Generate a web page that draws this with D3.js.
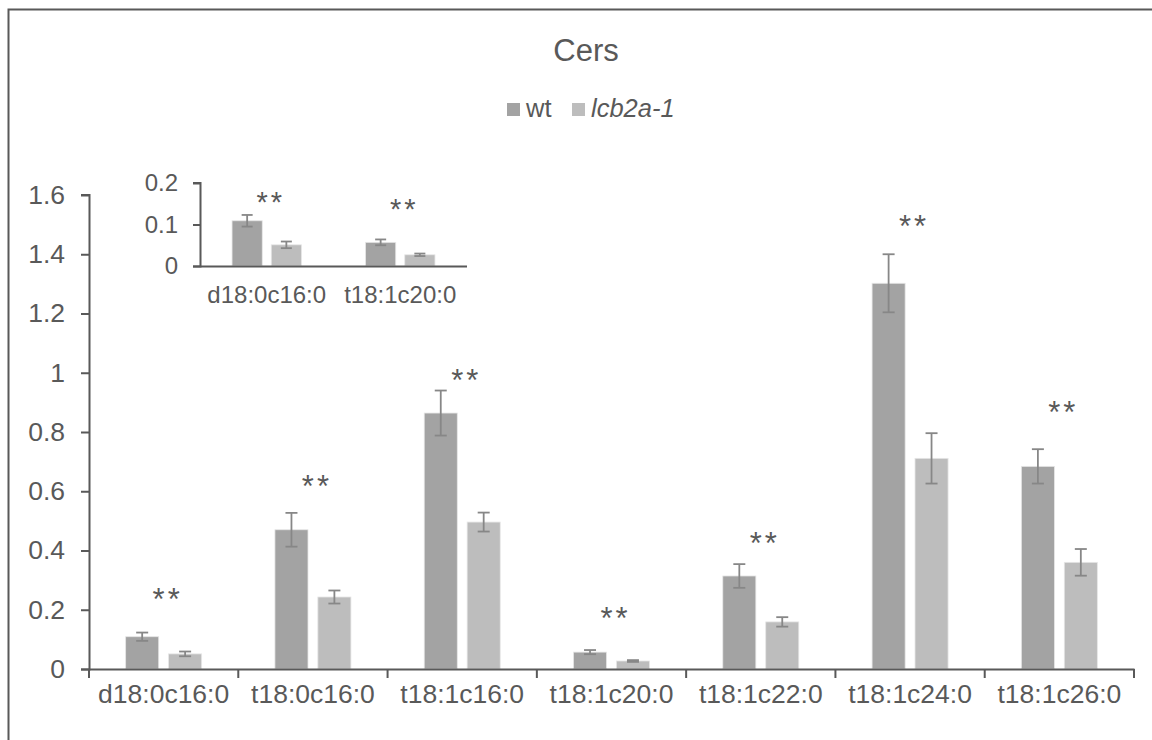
<!DOCTYPE html>
<html>
<head>
<meta charset="utf-8">
<script src="https://cdn.jsdelivr.net/npm/d3@7"></script>
<style>
  body { margin: 0; background: #fff; }
  text { font-family: "Liberation Sans", Arial, sans-serif; fill: #595959; }
</style>
</head>
<body>
<div id="chart"></div>
<script>
// data
var categories = ["d18:0c16:0", "t18:0c16:0", "t18:1c16:0", "t18:1c20:0", "t18:1c22:0", "t18:1c24:0", "t18:1c26:0"];
var seriesNames = ["wt", "lcb2a-1"];
var wt     = [0.109, 0.470, 0.864, 0.057, 0.314, 1.302, 0.684];
var wtErr  = [0.014, 0.057, 0.076, 0.007, 0.040, 0.098, 0.058];
var lcb    = [0.051, 0.243, 0.496, 0.027, 0.159, 0.711, 0.360];
var lcbErr = [0.008, 0.022, 0.032, 0.003, 0.016, 0.085, 0.045];
var sigLabel = ["**", "**", "**", "**", "**", "**", "**"];
var sigPos   = [0.26, 0.64, 1.00, 0.196, 0.45, 1.52, 0.89];
var yTicks = [0, 0.2, 0.4, 0.6, 0.8, 1, 1.2, 1.4, 1.6];

var insetCats = ["d18:0c16:0", "t18:1c20:0"];
var insetSigPos = [0.171, 0.153];
var insetTicks = [0, 0.1, 0.2];

var colors = ["#a3a3a3", "#bdbdbd"];
var axisColor = "#595959";
var errColor = "#878787";

var W = 1152, H = 740;
var svg = d3.select("#chart").append("svg").attr("width", W).attr("height", H);

// outer frame (runs past the right / bottom edges)
svg.append("rect")
    .attr("x", 8.5).attr("y", 9.5).attr("width", 1170).attr("height", 760)
    .attr("fill", "none").attr("stroke", axisColor).attr("stroke-width", 2);

svg.append("text").attr("x", 586).attr("y", 61)
    .attr("text-anchor", "middle").attr("font-size", 31).text("Cers");

// legend
var legend = svg.append("g");
var legItems = [{x: 507, name: seriesNames[0], italic: false}, {x: 572, name: seriesNames[1], italic: true}];
legItems.forEach(function(d, i) {
    legend.append("rect").attr("x", d.x).attr("y", 103).attr("width", 13).attr("height", 13).attr("fill", colors[i]);
    legend.append("text").attr("x", d.x + 19).attr("y", 117).attr("font-size", 25.5)
        .attr("font-style", d.italic ? "italic" : "normal").text(d.name);
});

function rows(cats) {
    return cats.map(function(c) {
        var i = categories.indexOf(c);
        return {cat: c, vals: [wt[i], lcb[i]], errs: [wtErr[i], lcbErr[i]], sig: sigLabel[i], sigY: sigPos[i]};
    });
}

function drawBars(g, data, x, y, opts) {
    var inner = x.bandwidth() * opts.innerFrac;
    var x1 = d3.scaleBand().domain([0, 1])
        .range([(x.bandwidth() - inner) / 2, (x.bandwidth() + inner) / 2])
        .paddingInner(0.23);

    var groups = g.selectAll("g.cat").data(data).enter().append("g")
        .attr("class", "cat")
        .attr("transform", function(d) { return "translate(" + x(d.cat) + ",0)"; });

    var bars = groups.selectAll("g.bar")
        .data(function(d) { return d.vals.map(function(v, k) { return {v: v, e: d.errs[k], k: k}; }); })
        .enter().append("g").attr("class", "bar");

    bars.append("rect")
        .attr("x", function(d) { return x1(d.k); })
        .attr("y", function(d) { return y(d.v); })
        .attr("width", x1.bandwidth())
        .attr("height", function(d) { return y(0) - y(d.v); })
        .attr("fill", function(d) { return colors[d.k]; })
        .attr("stroke", "#e6e6e6").attr("stroke-width", 0.8);

    var cap = opts.cap;
    bars.each(function(d) {
        var b = d3.select(this);
        var cx = x1(d.k) + x1.bandwidth() / 2;
        var top = y(d.v + d.e), bot = y(d.v - d.e);
        b.append("line").attr("x1", cx).attr("x2", cx).attr("y1", top).attr("y2", bot);
        b.append("line").attr("x1", cx - cap).attr("x2", cx + cap).attr("y1", top).attr("y2", top);
        b.append("line").attr("x1", cx - cap).attr("x2", cx + cap).attr("y1", bot).attr("y2", bot);
        b.selectAll("line").attr("stroke", errColor).attr("stroke-width", 1.8);
    });

    groups.append("text")
        .attr("x", x.bandwidth() / 2 + 4)
        .attr("y", function(d, i) { return y(opts.sigPos ? opts.sigPos[i] : d.sigY) + opts.starFs * 0.58; })
        .attr("text-anchor", "middle")
        .attr("font-size", opts.starFs)
        .attr("letter-spacing", 3)
        .text(function(d) { return d.sig; });
}

// main chart
var x = d3.scaleBand().domain(categories).range([89, 1134]);
var y = d3.scaleLinear().domain([0, 1.6]).range([669, 195]);

var gMain = svg.append("g");
drawBars(gMain, rows(categories), x, y, {innerFrac: 0.509, cap: 6, starFs: 31});

var yAxis = svg.append("g").attr("transform", "translate(89,0)")
    .call(d3.axisLeft(y).tickValues(yTicks).tickSize(8).tickPadding(16).tickFormat(d3.format("")));
var xAxis = svg.append("g").attr("transform", "translate(0,669)")
    .call(d3.axisBottom(x).tickSize(0).tickPadding(15));
xAxis.selectAll(".tick line").remove();
// category boundary ticks
xAxis.selectAll("line.sep").data(d3.range(categories.length + 1)).enter().append("line")
    .attr("class", "sep")
    .attr("x1", function(i) { return 89 + i * x.step(); })
    .attr("x2", function(i) { return 89 + i * x.step(); })
    .attr("y1", 0).attr("y2", 9);

[yAxis, xAxis].forEach(function(a) {
    a.select(".domain").attr("stroke", axisColor).attr("stroke-width", 2);
    a.selectAll("line").attr("stroke", axisColor).attr("stroke-width", 2);
    a.selectAll("text").attr("font-size", 26.5).attr("fill", axisColor)
        .style("font-family", '"Liberation Sans", Arial, sans-serif');
});
yAxis.select(".domain").attr("d", "M-8,669.5H0.5V195H-8");

// inset
var xi = d3.scaleBand().domain(insetCats).range([200, 467]);
var yi = d3.scaleLinear().domain([0, 0.2]).range([266, 183]);
var gInset = svg.append("g");
drawBars(gInset, rows(insetCats), xi, yi, {innerFrac: 0.52, cap: 5.5, starFs: 29, sigPos: insetSigPos});

var yiAxis = svg.append("g").attr("transform", "translate(200,0)")
    .call(d3.axisLeft(yi).tickValues(insetTicks).tickSize(7).tickPadding(15).tickFormat(d3.format("")));
var xiAxis = svg.append("g").attr("transform", "translate(0,266)")
    .call(d3.axisBottom(xi).tickSize(0).tickPadding(20));
[yiAxis, xiAxis].forEach(function(a) {
    a.select(".domain").attr("stroke", axisColor).attr("stroke-width", 2);
    a.selectAll("line").attr("stroke", axisColor).attr("stroke-width", 2);
    a.selectAll("text").attr("font-size", 24).attr("fill", axisColor)
        .style("font-family", '"Liberation Sans", Arial, sans-serif');
});
yiAxis.select(".domain").attr("d", "M-7,266.5H0.5V183H-7");
xiAxis.select(".domain").attr("d", "M200,0.5H467");
</script>
</body>
</html>
